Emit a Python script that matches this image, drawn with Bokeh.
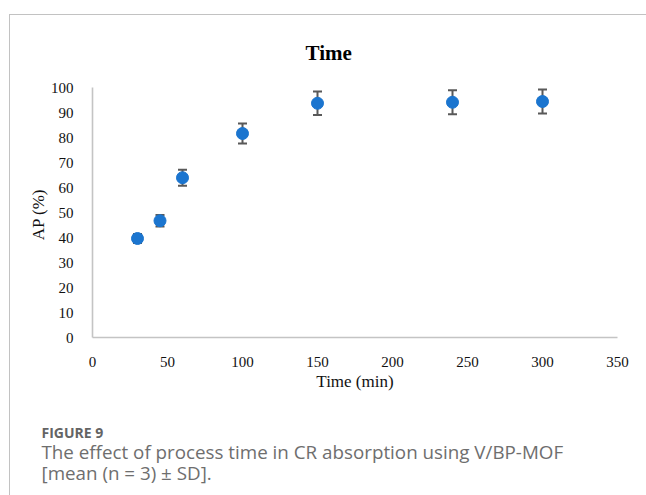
from bokeh.plotting import figure
from bokeh.layouts import column
from bokeh.models import (Range1d, ColumnDataSource, Whisker, TeeHead, Title,
                          FixedTicker, Label)
from bokeh.embed import file_html
from bokeh.resources import INLINE

# Adsorption percentage versus contact time (mean of n = 3, +/- SD)
time_min = [30, 45, 60, 100, 150, 240, 300]
ap_pct = [39.6, 46.7, 63.9, 81.6, 93.7, 94.1, 94.4]
ap_sd = [1.8, 2.3, 3.2, 4.0, 4.7, 4.8, 4.8]

x_ticks = [0, 50, 100, 150, 200, 250, 300, 350]
y_ticks = [0, 10, 20, 30, 40, 50, 60, 70, 80, 90, 100]

title_text = "Time"
x_label = "Time (min)"
y_label = "AP  (%)"
fig_no = "FIGURE 9"
caption_lines = ["The effect of process time in CR absorption using V/BP-MOF",
                 "[mean (n = 3) \u00b1 SD]."]

PAGE_W, PAGE_H = 646, 495
OX, OY = 10, 15                      # content offset inside the bordered box
W = PAGE_W - OX
SPLIT = 400                          # page y where the caption strip starts
FL, FR, FT, FB = 92, 617, 87, 337    # chart frame edges on the page

src = ColumnDataSource(dict(
    t=time_min, ap=ap_pct,
    lo=[a - s for a, s in zip(ap_pct, ap_sd)],
    hi=[a + s for a, s in zip(ap_pct, ap_sd)],
))

p = figure(width=W, height=SPLIT - OY, output_backend="svg",
           toolbar_location=None,
           x_range=Range1d(0, 350), y_range=Range1d(0, 100),
           min_border_left=FL - OX, min_border_right=PAGE_W - FR,
           min_border_top=FT - OY, min_border_bottom=SPLIT - FB)
p.frame_align = False
p.outline_line_color = None
p.xgrid.grid_line_color = None
p.ygrid.grid_line_color = None
p.background_fill_color = "white"
p.border_fill_color = "white"

serif = "Liberation Serif"
for ax in (p.xaxis[0], p.yaxis[0]):
    ax.axis_line_color = "#c4c4c4"
    ax.axis_line_width = 1.6
    ax.major_tick_line_color = None
    ax.minor_tick_line_color = None
    ax.major_label_text_font = serif
    ax.major_label_text_font_size = "15px"
    ax.major_label_text_color = "#111111"
    ax.major_label_standoff = 13
    ax.axis_label_text_font = serif
    ax.axis_label_text_font_style = "normal"
    ax.axis_label_text_font_size = "17px"
    ax.axis_label_text_color = "#111111"

p.xaxis.ticker = FixedTicker(ticks=x_ticks)
p.yaxis.ticker = FixedTicker(ticks=y_ticks)
p.xaxis.axis_label = x_label
p.yaxis.axis_label = y_label
p.xaxis.axis_label_standoff = 2
p.yaxis.axis_label_standoff = 0

# chart title
p.title = Title(text=title_text, text_font=serif, text_font_style="bold",
                text_font_size="21px", text_color="#000000", align="left",
                offset=213, standoff=46)

# error bars with caps
err = Whisker(source=src, base="t", upper="hi", lower="lo",
              line_color="#595959", line_width=2,
              upper_head=TeeHead(size=9, line_color="#595959", line_width=2),
              lower_head=TeeHead(size=9, line_color="#595959", line_width=2))
p.add_layout(err)

p.scatter("t", "ap", source=src, size=12, fill_color="#1b75cf",
          line_color="#1b75cf", marker="circle")

# caption strip: a bare canvas measured in pixels, y growing downward
cap_h = PAGE_H - SPLIT
cap = figure(width=W, height=cap_h, output_backend="svg",
             toolbar_location=None, x_range=Range1d(0, W),
             y_range=Range1d(cap_h, 0), min_border=0,
             x_axis_location=None, y_axis_location=None)
cap.frame_align = False
cap.grid.visible = False
cap.outline_line_color = None
cap.border_fill_color = "white"

sans = "Open Sans"
cap.add_layout(Label(x=41 - OX, y=432 - SPLIT, text=fig_no, text_font=sans,
                     text_font_style="bold", text_font_size="14px",
                     text_color="#646464", text_baseline="alphabetic"))
for line, base in zip(caption_lines, [451, 472]):
    cap.add_layout(Label(x=41 - OX, y=base - SPLIT, text=line,
                         text_font=sans, text_font_size="18.8px",
                         text_color="#6e6e6e", text_baseline="alphabetic"))

page = column(p, cap, spacing=0)
page.styles = {"margin-left": "9px", "margin-top": "14px",
               "border-top": "1px solid #c2c2c2",
               "border-left": "1px solid #c2c2c2"}

open("out.html", "w").write(file_html(page, INLINE))
